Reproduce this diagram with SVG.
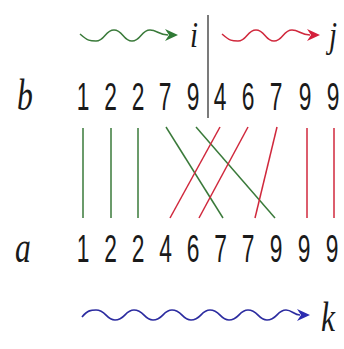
<svg xmlns="http://www.w3.org/2000/svg" width="344" height="349" viewBox="0 0 344 349">
<style>
.d{font-family:"Liberation Sans",Arial,sans-serif;font-size:38px;text-anchor:middle;fill:#1a1a1a}
.v{font-family:"Liberation Serif","Times New Roman",serif;font-style:italic;text-anchor:middle;fill:#1a1a1a}
.g{stroke:#3a7a3a;stroke-width:1.5;fill:none}
.r{stroke:#d0283c;stroke-width:1.5;fill:none}
.bl{stroke:#2c2ca0;stroke-width:1.7;fill:none}
</style>
<rect width="344" height="349" fill="#fff"/>
<g id="arrow-i">
<path class="g" stroke-width="1.7" d="M80,34 C88,41 90,41 96,41 C105,41 105,30 114,30 C123,30 123,41 132,41 C141,41 141,30 150,30 C157,30 159,35 168,35"/>
<polygon points="178,35 165,29 169,35 165,41" fill="#2f7a35"/>
<text class="v" font-size="36" transform="translate(194 47) scale(0.8 1)">i</text>
</g>
<g id="arrow-j">
<path class="r" stroke-width="1.7" d="M222,34 C230,41 232,41 238,41 C247,41 247,30 256,30 C265,30 265,41 274,41 C283,41 283,30 292,30 C299,30 301,35 310,35"/>
<polygon points="320,35 307,29 311,35 307,41" fill="#d4203c"/>
<text class="v" font-size="36" transform="translate(333 47) scale(0.8 1)">j</text>
</g>
<g id="divider">
<line x1="208" y1="15" x2="208" y2="118" stroke="#333" stroke-width="1.3"/>
</g>
<g id="row-b">
<text class="v" font-size="44" transform="translate(25 110) scale(0.72 1)">b</text>
<text class="d" transform="translate(83 110) scale(0.6 1)">1</text>
<text class="d" transform="translate(110.5 110) scale(0.6 1)">2</text>
<text class="d" transform="translate(138 110) scale(0.6 1)">2</text>
<text class="d" transform="translate(165 110) scale(0.6 1)">7</text>
<text class="d" transform="translate(193 110) scale(0.6 1)">9</text>
<text class="d" transform="translate(220 110) scale(0.6 1)">4</text>
<text class="d" transform="translate(248 110) scale(0.6 1)">6</text>
<text class="d" transform="translate(276 110) scale(0.6 1)">7</text>
<text class="d" transform="translate(305 110) scale(0.6 1)">9</text>
<text class="d" transform="translate(333 110) scale(0.6 1)">9</text>
</g>
<g id="connectors">
<line class="g" x1="83" y1="128" x2="83" y2="218"/>
<line class="g" x1="111" y1="128" x2="111" y2="218"/>
<line class="g" x1="138" y1="128" x2="138" y2="218"/>
<line class="g" x1="166" y1="127" x2="223" y2="218"/>
<line class="g" x1="196" y1="127" x2="275" y2="218"/>
<line class="r" x1="220" y1="127" x2="170" y2="218"/>
<line class="r" x1="248" y1="127" x2="199" y2="218"/>
<line class="r" x1="277" y1="127" x2="255" y2="218"/>
<line class="r" x1="307" y1="128" x2="307" y2="218"/>
<line class="r" x1="334" y1="128" x2="334" y2="218"/>
</g>
<g id="row-a">
<text class="v" font-size="44" transform="translate(23 262) scale(0.72 1)">a</text>
<text class="d" transform="translate(83 262) scale(0.6 1)">1</text>
<text class="d" transform="translate(110.5 262) scale(0.6 1)">2</text>
<text class="d" transform="translate(138 262) scale(0.6 1)">2</text>
<text class="d" transform="translate(165.5 262) scale(0.6 1)">4</text>
<text class="d" transform="translate(193 262) scale(0.6 1)">6</text>
<text class="d" transform="translate(220.5 262) scale(0.6 1)">7</text>
<text class="d" transform="translate(248 262) scale(0.6 1)">7</text>
<text class="d" transform="translate(276 262) scale(0.6 1)">9</text>
<text class="d" transform="translate(304 262) scale(0.6 1)">9</text>
<text class="d" transform="translate(332 262) scale(0.6 1)">9</text>
</g>
<g id="arrow-k">
<path class="bl" d="M82,317 C88,310 91,310 96,310 C106,310 106,320 115,320 C125,320 125,310 134,310 C144,310 144,320 153,320 C163,320 163,310 172,310 C182,310 182,320 191,320 C201,320 201,310 210,310 C220,310 220,320 229,320 C239,320 239,310 248,310 C258,310 258,320 267,320 C277,320 277,310 286,310 C292,310 294,315 300,315"/>
<polygon points="310,315 297,309 301,315 297,321" fill="#2c2cb0"/>
<text class="v" font-size="42" transform="translate(328 331) scale(0.75 1)">k</text>
</g>
</svg>
